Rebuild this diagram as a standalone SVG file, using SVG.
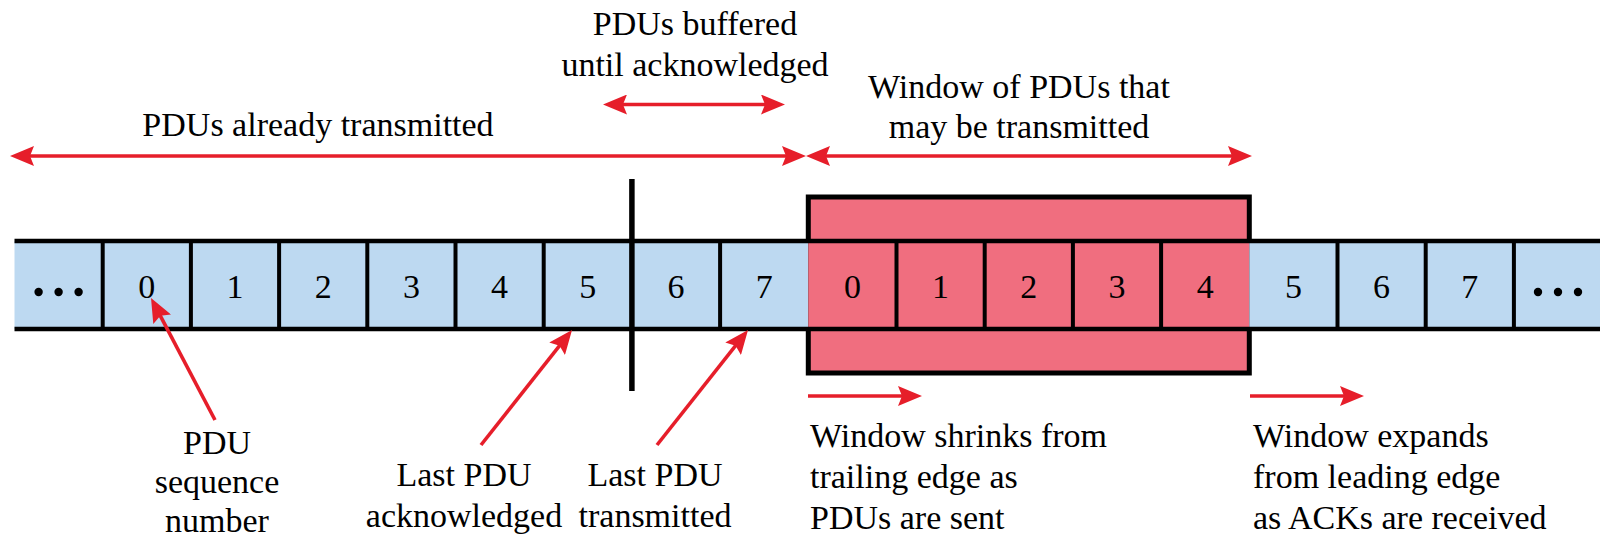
<svg xmlns="http://www.w3.org/2000/svg" width="1600" height="540" viewBox="0 0 1600 540">
  <style>
    text { font-family: "Liberation Serif", "Times New Roman", Times, serif; font-size: 34px; fill: #000; }
    .c { text-anchor: middle; }
    .blue { fill: #BDD9F1; }
    .red { fill: #F06E7F; }
    .bline { stroke: #000; stroke-width: 4.5; fill: none; }
    .div { stroke: #000; stroke-width: 4; }
    .arr { stroke: #E61E2A; stroke-width: 3.6; fill: none; }
    .dot { fill: #000; }
  </style>
  <defs>
    <marker id="ah" markerUnits="userSpaceOnUse" viewBox="0 -10 24 20" refX="18" refY="0" markerWidth="24" markerHeight="20" orient="auto-start-reverse">
      <path d="M0,-10 L24,0 L0,10 L4,0 Z" fill="#E61E2A"/>
    </marker>
  </defs>

  <!-- window background (red box) -->
  <g id="window">
    <rect x="808.3" y="197" width="441" height="176" class="red" stroke="#000" stroke-width="5"/>
  </g>

  <!-- cells -->
  <g id="cell-dots-left">
    <rect x="14.5" y="241" width="88.2" height="88" class="blue"/>
    <circle cx="38.6" cy="292" r="4.2" class="dot"/>
    <circle cx="58.6" cy="292" r="4.2" class="dot"/>
    <circle cx="78.6" cy="292" r="4.2" class="dot"/>
  </g>
  <g id="cell-a0"><rect x="102.7" y="241" width="88.2" height="88" class="blue"/><text x="146.8" y="298" class="c">0</text></g>
  <g id="cell-a1"><rect x="190.9" y="241" width="88.2" height="88" class="blue"/><text x="235.0" y="298" class="c">1</text></g>
  <g id="cell-a2"><rect x="279.1" y="241" width="88.2" height="88" class="blue"/><text x="323.2" y="298" class="c">2</text></g>
  <g id="cell-a3"><rect x="367.3" y="241" width="88.2" height="88" class="blue"/><text x="411.4" y="298" class="c">3</text></g>
  <g id="cell-a4"><rect x="455.5" y="241" width="88.2" height="88" class="blue"/><text x="499.6" y="298" class="c">4</text></g>
  <g id="cell-a5"><rect x="543.7" y="241" width="88.2" height="88" class="blue"/><text x="587.8" y="298" class="c">5</text></g>
  <g id="cell-a6"><rect x="631.9" y="241" width="88.2" height="88" class="blue"/><text x="676.0" y="298" class="c">6</text></g>
  <g id="cell-a7"><rect x="720.1" y="241" width="88.2" height="88" class="blue"/><text x="764.2" y="298" class="c">7</text></g>
  <g id="cell-w0"><rect x="808.3" y="241" width="88.2" height="88" class="red"/><text x="852.4" y="298" class="c">0</text></g>
  <g id="cell-w1"><rect x="896.5" y="241" width="88.2" height="88" class="red"/><text x="940.6" y="298" class="c">1</text></g>
  <g id="cell-w2"><rect x="984.7" y="241" width="88.2" height="88" class="red"/><text x="1028.8" y="298" class="c">2</text></g>
  <g id="cell-w3"><rect x="1072.9" y="241" width="88.2" height="88" class="red"/><text x="1117.0" y="298" class="c">3</text></g>
  <g id="cell-w4"><rect x="1161.1" y="241" width="88.2" height="88" class="red"/><text x="1205.2" y="298" class="c">4</text></g>
  <g id="cell-b5"><rect x="1249.3" y="241" width="88.2" height="88" class="blue"/><text x="1293.4" y="298" class="c">5</text></g>
  <g id="cell-b6"><rect x="1337.5" y="241" width="88.2" height="88" class="blue"/><text x="1381.6" y="298" class="c">6</text></g>
  <g id="cell-b7"><rect x="1425.7" y="241" width="88.2" height="88" class="blue"/><text x="1469.8" y="298" class="c">7</text></g>
  <g id="cell-dots-right">
    <rect x="1513.9" y="241" width="88.2" height="88" class="blue"/>
    <circle cx="1538" cy="292" r="4.2" class="dot"/>
    <circle cx="1558" cy="292" r="4.2" class="dot"/>
    <circle cx="1578" cy="292" r="4.2" class="dot"/>
  </g>

  <!-- strip borders -->
  <g id="strip-borders">
    <line x1="14.5" y1="241" x2="1600" y2="241" class="bline"/>
    <line x1="14.5" y1="329" x2="1600" y2="329" class="bline"/>
    <g class="div">
      <line x1="102.7" y1="241" x2="102.7" y2="329"/>
      <line x1="190.9" y1="241" x2="190.9" y2="329"/>
      <line x1="279.1" y1="241" x2="279.1" y2="329"/>
      <line x1="367.3" y1="241" x2="367.3" y2="329"/>
      <line x1="455.5" y1="241" x2="455.5" y2="329"/>
      <line x1="543.7" y1="241" x2="543.7" y2="329"/>
      <line x1="720.1" y1="241" x2="720.1" y2="329"/>
      <line x1="896.5" y1="241" x2="896.5" y2="329"/>
      <line x1="984.7" y1="241" x2="984.7" y2="329"/>
      <line x1="1072.9" y1="241" x2="1072.9" y2="329"/>
      <line x1="1161.1" y1="241" x2="1161.1" y2="329"/>
      <line x1="1337.5" y1="241" x2="1337.5" y2="329"/>
      <line x1="1425.7" y1="241" x2="1425.7" y2="329"/>
      <line x1="1513.9" y1="241" x2="1513.9" y2="329"/>
    </g>
  </g>

  <!-- ack boundary -->
  <g id="ack-boundary">
    <line x1="631.9" y1="179" x2="631.9" y2="391" stroke="#000" stroke-width="5.5"/>
  </g>

  <!-- connectors -->
  <g id="connectors">
    <line x1="16" y1="156" x2="800" y2="156" class="arr" marker-start="url(#ah)" marker-end="url(#ah)"/>
    <line x1="812" y1="156" x2="1246" y2="156" class="arr" marker-start="url(#ah)" marker-end="url(#ah)"/>
    <line x1="609" y1="104.5" x2="779" y2="104.5" class="arr" marker-start="url(#ah)" marker-end="url(#ah)"/>
    <line x1="808" y1="396" x2="916" y2="396" class="arr" marker-end="url(#ah)"/>
    <line x1="1250" y1="396" x2="1358" y2="396" class="arr" marker-end="url(#ah)"/>
    <line x1="215" y1="420" x2="153.8" y2="303.3" class="arr" marker-end="url(#ah)"/>
    <line x1="481" y1="445" x2="568.3" y2="334.7" class="arr" marker-end="url(#ah)"/>
    <line x1="657" y1="445" x2="744.3" y2="334.7" class="arr" marker-end="url(#ah)"/>
  </g>

  <!-- labels -->
  <g id="label-already">
    <text x="318" y="136" class="c">PDUs already transmitted</text>
  </g>
  <g id="label-buffered">
    <text x="695" y="35" class="c">PDUs buffered</text>
    <text x="695" y="76" class="c">until acknowledged</text>
  </g>
  <g id="label-window">
    <text x="1019" y="98" class="c">Window of PDUs that</text>
    <text x="1019" y="138" class="c">may be transmitted</text>
  </g>
  <g id="label-seq">
    <text x="217" y="454" class="c">PDU</text>
    <text x="217" y="493" class="c">sequence</text>
    <text x="217" y="532" class="c">number</text>
  </g>
  <g id="label-last-ack">
    <text x="464" y="486" class="c">Last PDU</text>
    <text x="464" y="527" class="c">acknowledged</text>
  </g>
  <g id="label-last-tx">
    <text x="655" y="486" class="c">Last PDU</text>
    <text x="655" y="527" class="c">transmitted</text>
  </g>
  <g id="label-shrinks">
    <text x="810" y="447">Window shrinks from</text>
    <text x="810" y="488">trailing edge as</text>
    <text x="810" y="529">PDUs are sent</text>
  </g>
  <g id="label-expands">
    <text x="1253" y="447">Window expands</text>
    <text x="1253" y="488">from leading edge</text>
    <text x="1253" y="529">as ACKs are received</text>
  </g>
</svg>
